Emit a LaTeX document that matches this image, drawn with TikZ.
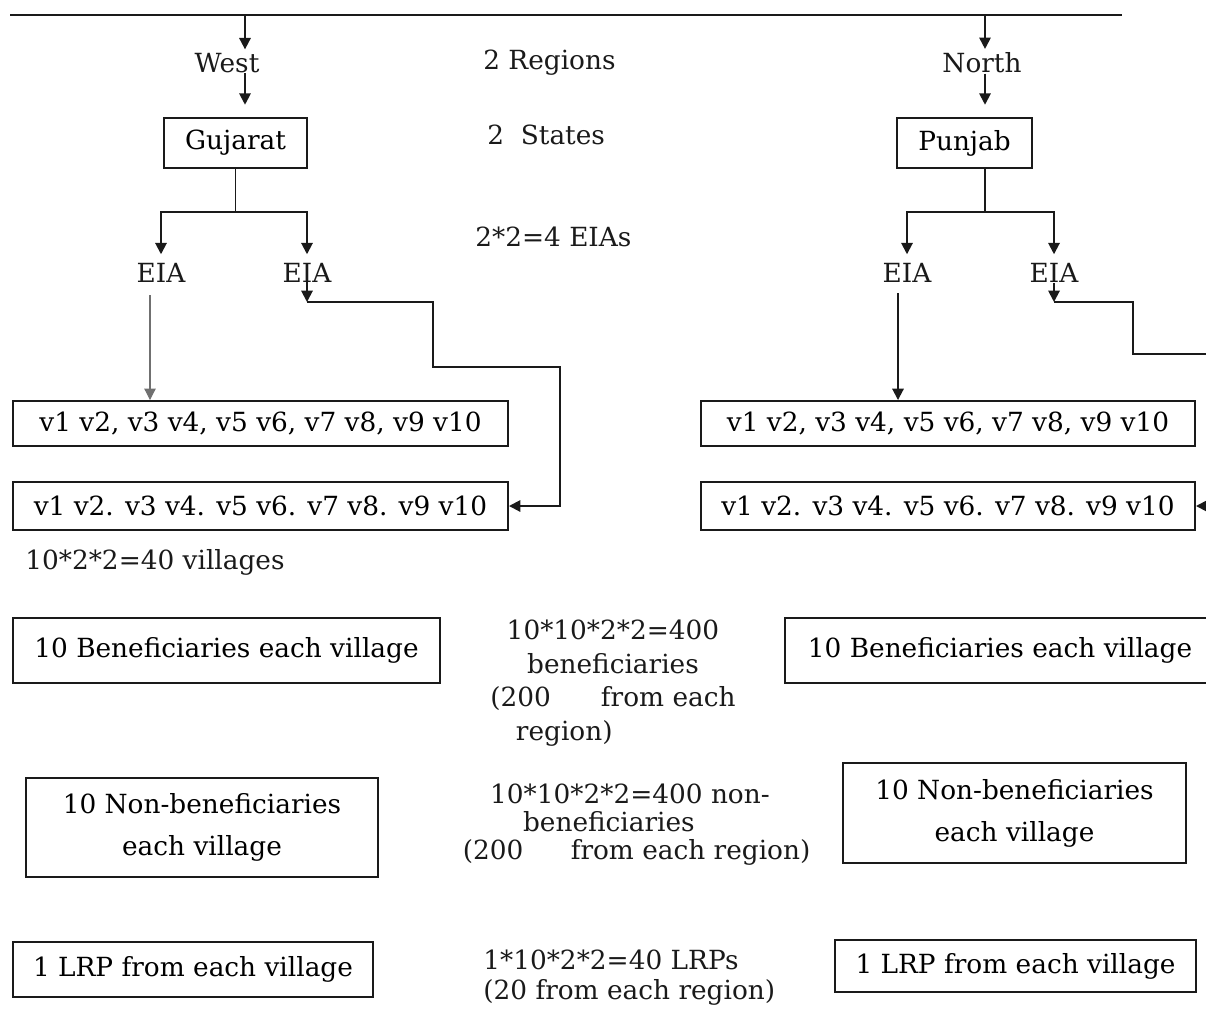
\documentclass[tikz,border=0pt]{standalone}
\usepackage{fontspec}
\setmainfont{DejaVu Serif}
\usepackage{tikz}
\usetikzlibrary{arrows.meta,calc,positioning}
\definecolor{Ink}{HTML}{1A1A1A}
\definecolor{Faint}{HTML}{707070}

\begin{document}
\begin{tikzpicture}[
    x=0.02cm, y=-0.02cm,
    box/.style={
      draw=Ink, line width=1.1pt, inner sep=0pt, align=center,
      font=\fontsize{15}{24}\selectfont
    },
    lbl/.style={inner sep=0pt, text=Ink, font=\fontsize{15}{17}\selectfont},
    arr/.style={-{Triangle[length=6.5pt,width=6.5pt]}, line width=1.1pt, draw=Ink},
    faintarr/.style={-{Triangle[length=6.5pt,width=6.5pt]}, line width=0.6pt, draw=Faint},
    wire/.style={line width=1.1pt, draw=Ink}
  ]
    \useasboundingbox (0,0) rectangle (1206,1008);
    \clip (0,0) rectangle (1206,1008);

    \coordinate (railL) at (10,15);
    \coordinate (railR) at (1122,15);
    \draw[wire] (railL) -- (railR);

    \node[lbl] (west) at (227,63) {West};
    \node[lbl] (north) at (982,63) {North};
    \node[box,minimum width=143*0.02cm,minimum height=50*0.02cm,font=\fontsize{15}{17}\selectfont] (guj) at (235.5,143) {Gujarat};
    \node[box,minimum width=135*0.02cm,minimum height=50*0.02cm,font=\fontsize{15}{17}\selectfont] (pun) at (964.5,143) {Punjab};
    \node[lbl] (eiaGA) at (161,273) {EIA};
    \node[lbl] (eiaGB) at (307,273) {EIA};
    \node[lbl] (eiaPA) at (907,273) {EIA};
    \node[lbl] (eiaPB) at (1054,273) {EIA};

    \node[lbl,anchor=west] (regions) at (483,63) {2 Regions};
    \node[lbl,anchor=west] (states) at (487,135) {2\ \ States};
    \node[lbl,anchor=west] (eias) at (475,237) {2*2=4 EIAs};

    \node[box,minimum width=495*0.02cm,minimum height=45*0.02cm] (vGA) at (260.5,423.5) {v1 v2, v3 v4, v5 v6, v7 v8, v9 v10};
    \node[box,minimum width=495*0.02cm,minimum height=48*0.02cm] (vGB) at (260.5,506) {v1 v2. v3 v4. v5 v6. v7 v8. v9 v10};
    \node[box,minimum width=494*0.02cm,minimum height=45*0.02cm] (vPA) at (948,423.5) {v1 v2, v3 v4, v5 v6, v7 v8, v9 v10};
    \node[box,minimum width=494*0.02cm,minimum height=48*0.02cm] (vPB) at (948,506) {v1 v2. v3 v4. v5 v6. v7 v8. v9 v10};
    \node[lbl,anchor=west] (villages) at (25,562) {10*2*2=40 villages};

    \node[box,minimum width=427*0.02cm,minimum height=65*0.02cm] (benG) at (226.5,650.5) {10 Beneficiaries each village};
    \node[box,minimum width=430*0.02cm,minimum height=65*0.02cm] (benP) at (1000,650.5) {10 Beneficiaries each village};
    \node[lbl,align=center,font=\fontsize{15}{19.2}\selectfont] (benSum) at (613,683)
      {10*10*2*2=400\\beneficiaries\\(200\hspace{1.9em}from each\\region)\makebox[3.7em]{}};

    \node[box,minimum width=352*0.02cm,minimum height=99*0.02cm] (nbG) at (202,827.5) {10 Non-beneficiaries\\each village};
    \node[box,minimum width=343*0.02cm,minimum height=100*0.02cm] (nbP) at (1014.5,813) {10 Non-beneficiaries\\each village};
    \node[lbl,align=center,font=\fontsize{15}{15.9}\selectfont] (nbSum) at (630,825)
      {10*10*2*2=400 non-\\beneficiaries\makebox[1.6em]{}\\\makebox[0.5em]{}(200\hspace{1.8em}from each region)};

    \node[box,minimum width=360*0.02cm,minimum height=55*0.02cm] (lrpG) at (193,969.5) {1 LRP from each village};
    \node[box,minimum width=361*0.02cm,minimum height=52*0.02cm] (lrpP) at (1015.5,966) {1 LRP from each village};
    \node[lbl,anchor=west,align=left] (lrpSum) at (483,978) {1*10*2*2=40 LRPs\\(20 from each region)};

    \coordinate (westDrop) at (245,15);
    \coordinate (northDrop) at (985,15);
    \draw[arr,shorten >=2pt] (westDrop) -- (westDrop |- west.north);
    \draw[arr,shorten >=7pt] (westDrop |- west.south) -- (westDrop |- guj.north);
    \draw[arr,shorten >=2pt] (northDrop) -- (northDrop |- north.north);
    \draw[arr,shorten >=7pt] (northDrop |- north.south) -- (northDrop |- pun.north);

    \coordinate (gujFork) at (235.5,212);
    \coordinate (punFork) at (985,212);
    \draw[wire] (guj.south) -- (gujFork);
    \draw[arr,shorten >=5pt] (gujFork) -| (eiaGA.north);
    \draw[arr,shorten >=5pt] (gujFork) -| (eiaGB.north);
    \draw[wire] (punFork |- pun.south) -- (punFork);
    \draw[arr,shorten >=5pt] (punFork) -| (eiaPA.north);
    \draw[arr,shorten >=5pt] (punFork) -| (eiaPB.north);

    \coordinate (gaDrop) at (150,295);
    \coordinate (paDrop) at (898,293);
    \draw[faintarr] (gaDrop) -- (gaDrop |- vGA.north);
    \draw[arr] (paDrop) -- (paDrop |- vPA.north);

    \coordinate (gbTip) at (307,302);
    \coordinate (gbStep) at (433,367);
    \draw[arr] (eiaGB.center) -- (gbTip);
    \draw[arr] (gbTip) -| (gbStep) -| ($(vGB.east)+(51,0)$) -- (vGB.east);

    \coordinate (pbTip) at (1054,302);
    \coordinate (pbStep) at (1133,354);
    \draw[arr] (eiaPB.south) -- (pbTip);
    \draw[arr] (pbTip) -| (pbStep) -| ($(vPB.east)+(11,0)$) -- (vPB.east);
\end{tikzpicture}
\end{document}
